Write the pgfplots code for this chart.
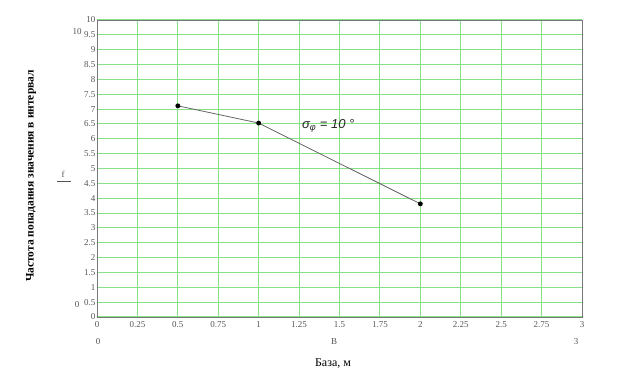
\documentclass[border=0pt]{standalone}
\usepackage{pgfplots}
\pgfplotsset{compat=1.18}
\usepackage{fontspec}
\setmainfont{Liberation Serif}
\newfontfamily\arialf{Liberation Sans}
\definecolor{gridgreen}{RGB}{135,225,135}
\definecolor{framegray}{RGB}{120,120,120}
\definecolor{ticktext}{RGB}{85,85,85}
\begin{document}
\begin{tikzpicture}[x=1pt,y=1pt]
\path[use as bounding box] (0,0) rectangle (622,375);
\begin{axis}[
  at={(97pt,58pt)}, anchor=south west,
  scale only axis, width=485pt, height=297pt,
  xmin=0, xmax=3, ymin=0, ymax=10,
  xtick={0,0.25,...,3}, ytick={0,0.5,...,10},
  xticklabels={0,0.25,0.5,0.75,1,1.25,1.5,1.75,2,2.25,2.5,2.75,3},
  yticklabels={0,0.5,1,1.5,2,2.5,3,3.5,4,4.5,5,5.5,6,6.5,7,7.5,8,8.5,9,9.5,10},
  grid=major,
  major grid style={gridgreen, line width=1pt},
  axis line style={framegray, line width=0.9pt},
  major tick length=0pt,
  tick label style={font=\fontsize{9}{10}\selectfont, text=ticktext},
  xticklabel style={yshift=-1pt},
  yticklabel style={xshift=2pt},
  clip=false,
]
\addplot[color=black!60, line width=0.8pt, mark=*, mark size=2pt,
  mark options={fill=black, draw=black}]
  coordinates {(0.5,7.11) (1,6.53) (2,3.81)};
\node[font=\arialf\itshape\fontsize{13}{14}\selectfont, text=black!85] at (axis cs:1.43,6.44) {σ\textsubscript{φ} = 10 °};
\end{axis}
% Mathcad-style extra labels
\node[font=\fontsize{9}{10}\selectfont, text=ticktext] at (77,343) {10};
\node[font=\fontsize{9}{10}\selectfont, text=ticktext] at (77,70) {0};
\node[font=\fontsize{9}{10}\selectfont, text=ticktext] at (98,33) {0};
\node[font=\fontsize{9}{10}\selectfont, text=ticktext] at (334,33) {B};
\node[font=\fontsize{9}{10}\selectfont, text=ticktext] at (576,33) {3};
\node[font=\fontsize{9}{10}\selectfont, text=ticktext] at (63,201) {f};
\draw[ticktext, line width=0.6pt] (57,194) -- (71,194);
\node[rotate=90, font=\fontsize{11.5}{13}\selectfont\bfseries] at (31,199) {Частота попадания значения в интервал};
\node[font=\fontsize{12}{13}\selectfont] at (333,12) {База, м};
\end{tikzpicture}
\end{document}
